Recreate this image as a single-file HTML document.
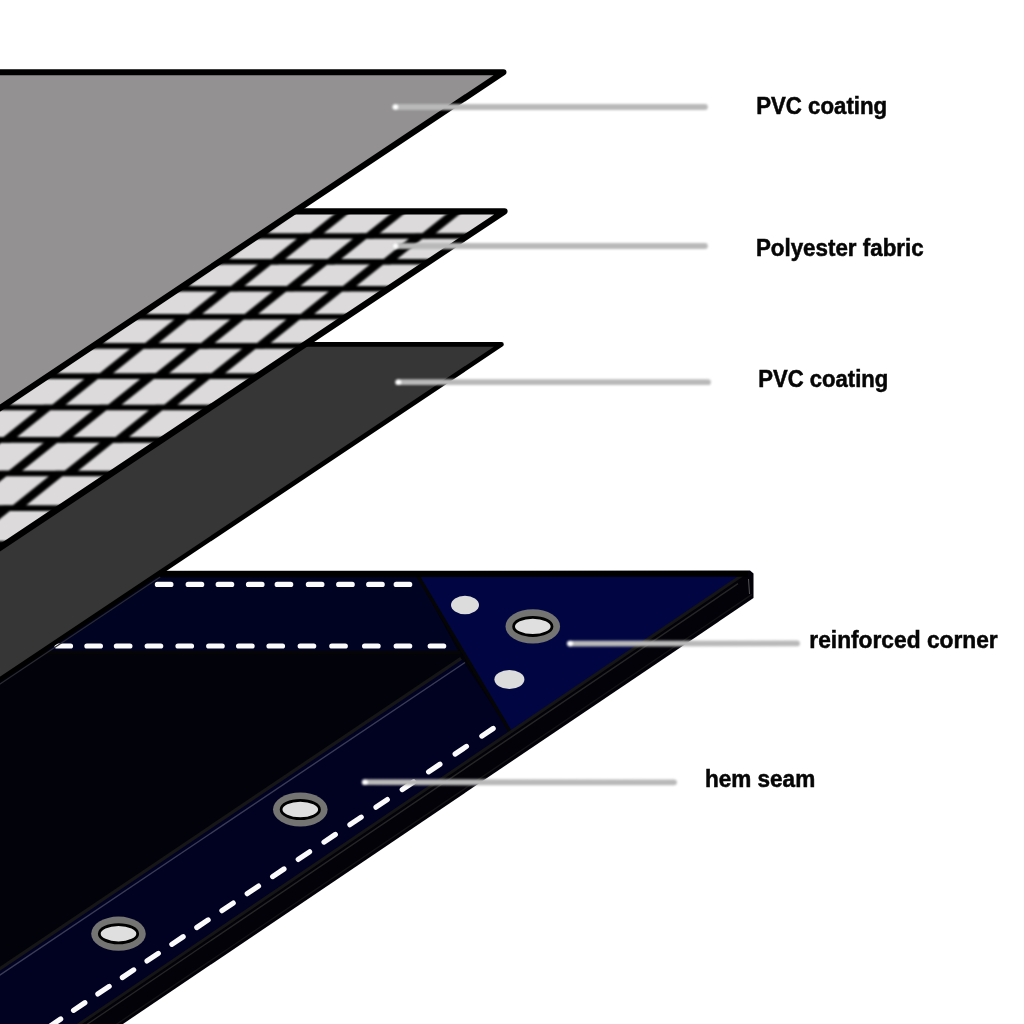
<!DOCTYPE html>
<html><head><meta charset="utf-8"><style>
html,body{margin:0;padding:0;background:#fff;width:1024px;height:1024px;overflow:hidden}
svg{display:block}
text{font-family:"Liberation Sans",sans-serif;font-weight:bold;font-size:23px;fill:#060606;stroke:#060606;stroke-width:0.5px}
</style></head><body>
<svg width="1024" height="1024" viewBox="0 0 1024 1024">
<defs><filter id="bl" color-interpolation-filters="sRGB" filterUnits="userSpaceOnUse" x="-10" y="-10" width="1044" height="1044"><feGaussianBlur stdDeviation="0.7"/></filter><filter id="bl2" color-interpolation-filters="sRGB" filterUnits="userSpaceOnUse" x="-10" y="-10" width="1044" height="1044"><feGaussianBlur stdDeviation="0.9"/></filter></defs>
<rect width="1024" height="1024" fill="#fff"/>
<g filter="url(#bl)">
<polygon points="-40,571 750,570.5 753.5,573.5 753.5,598 -40,1134.13" fill="#020208"/>
<line x1="738" y1="583.65" x2="-40" y2="1110.35" stroke="#262626" stroke-width="1.4"/>
<line x1="-40" y1="1130.13" x2="752" y2="594.34" stroke="#141414" stroke-width="1.4"/>
<line x1="748.5" y1="579" x2="749.5" y2="594" stroke="#555" stroke-width="1"/>
<polygon points="-40,574.4 743.53,574.4 -40,1104.85" fill="#02020a"/>
<polygon points="-40,574.4 417,574.4 459,652.5 -40,652.5" fill="#010322"/>
<polygon points="461,657.88 -40,995.55 -40,1104.85 510.5,732.16" fill="#010222"/>
<polygon points="417,574.4 743.53,574.4 510.5,732.16" fill="#010642"/>
<line x1="-40" y1="652.5" x2="460" y2="652.5" stroke="#050505" stroke-width="3.5"/>
<line x1="417" y1="574.4" x2="511" y2="733.16" stroke="#050505" stroke-width="3.5"/>
<line x1="461" y1="658.38" x2="-40" y2="995.55" stroke="#161616" stroke-width="3.2"/>
<line x1="465" y1="662.49" x2="-40" y2="1001.85" stroke="#3a3d55" stroke-width="1.4"/>
<line x1="743.53" y1="574.4" x2="-40" y2="1104.85" stroke="#151515" stroke-width="3"/>
<line x1="-40" y1="574.4" x2="748" y2="573.9" stroke="#000" stroke-width="5.8"/>
<path d="M157.4 584.4h13.5 M188.2 584.4h13.5 M218.2 584.4h13.5 M248.5 584.4h13.5 M277.2 584.4h13.5 M308.4 584.4h13.5 M338.7 584.4h13.5 M368.7 584.4h13.5 M396.2 584.4h13.5 M27.1 646h13.5 M57 646h13.5 M86.9 646h13.5 M116.4 646h13.5 M147.2 646h13.5 M178 646h13.5 M208.7 646h13.5 M238.6 646h13.5 M269 646h13.5 M300.2 646h13.5 M331.8 646h13.5 M364.6 646h13.5 M396.2 646h13.5 M430.2 646h13.5 M493.15 728.52L481.85 736.08 M466.45 746.45L455.15 754.01 M439.91 764.28L428.6 771.84 M413.52 782L402.22 789.56 M387.29 799.61L375.99 807.18 M361.22 817.12L349.92 824.68 M335.31 834.53L324.01 842.09 M309.55 851.82L298.25 859.39 M283.95 869.02L272.65 876.58 M258.51 886.1L247.21 893.66 M233.23 903.08L221.93 910.64 M208.11 919.96L196.8 927.52 M183.14 936.72L171.84 944.29 M158.33 953.39L147.03 960.95 M133.68 969.94L122.37 977.5 M109.18 986.39L97.88 993.96 M84.84 1002.74L73.54 1010.3 M60.66 1018.98L49.36 1026.54 M36.64 1035.11L25.34 1042.67 M12.78 1051.14L1.48 1058.7" stroke="#fbfbfb" stroke-width="5.2" stroke-linecap="round" fill="none"/>
<ellipse cx="532.8" cy="626.4" rx="27.3" ry="17.1" fill="#747472"/><ellipse cx="532.8" cy="626.4" rx="19.2" ry="9.1" fill="#e0dfdf" stroke="#000" stroke-width="2.8"/>
<ellipse cx="300.3" cy="809.5" rx="27.3" ry="17.1" fill="#747472"/><ellipse cx="300.3" cy="809.5" rx="19.2" ry="9.1" fill="#e0dfdf" stroke="#000" stroke-width="2.8"/>
<ellipse cx="118.5" cy="933.7" rx="27.3" ry="17.1" fill="#747472"/><ellipse cx="118.5" cy="933.7" rx="19.2" ry="9.1" fill="#e0dfdf" stroke="#000" stroke-width="2.8"/>
<ellipse cx="465" cy="605" rx="14" ry="9.2" fill="#dcdcdc"/>
<ellipse cx="509.4" cy="679.5" rx="15" ry="9.4" fill="#dcdcdc"/>
<polygon points="-40,344.4 501.5,344.4 -40,706.12" fill="#363636" stroke="#000" stroke-width="4.6" stroke-linejoin="round"/>
<line x1="160.18" y1="577" x2="-40" y2="710.72" stroke="#2a2a32" stroke-width="1.2"/>
<clipPath id="gc"><polygon points="-40,211.3 504.5,211.3 -40,574.48"/></clipPath>
<polygon points="-40,211.3 504.5,211.3 -40,574.48" fill="#dcdada"/>
<g clip-path="url(#gc)"><g filter="url(#bl2)"><path d="M-40 235.99H520 M-40 261.8H520 M-40 288.71H520 M-40 316.72H520 M-40 345.85H520 M-40 376.08H520 M-40 407.43H520 M-40 439.88H520 M-40 473.43H520 M-40 508.1H520 M-40 543.87H520 M-40 580.76H520 M-40 618.75H520" stroke="#000" stroke-width="5.6"/>
<path d="M-442.98 208.7H-429.53L-466.92 238.59H-480.37Z M-480.43 233.39H-466.98L-505.75 264.4H-519.2Z M-519.55 259.2H-506.1L-546.26 291.31H-559.71Z M-560.34 286.11H-546.89L-588.43 319.32H-601.89Z M-602.81 314.12H-589.36L-632.29 348.45H-645.74Z M-646.95 343.25H-633.5L-677.81 378.68H-691.26Z M-692.77 373.48H-679.32L-725.01 410.03H-738.47Z M-740.26 404.83H-726.8L-773.89 442.48H-787.34Z M-789.42 437.28H-775.97L-824.44 476.03H-837.89Z M-840.25 470.83H-826.8L-876.66 510.7H-890.11Z M-892.76 505.5H-879.31L-930.55 546.47H-944Z M-946.95 541.27H-933.5L-986.12 583.36H-999.57Z M-1002.8 578.16H-989.35L-1043.36 621.35H-1056.82Z M-1060.33 616.15H-1046.88L-1102.28 660.44H-1115.73Z M-1119.54 655.24H-1106.09L-1162.87 700.65H-1176.32Z M-386.98 208.7H-373.53L-410.92 238.59H-424.37Z M-424.43 233.39H-410.98L-449.75 264.4H-463.2Z M-463.55 259.2H-450.1L-490.26 291.31H-503.71Z M-504.34 286.11H-490.89L-532.43 319.32H-545.89Z M-546.81 314.12H-533.36L-576.29 348.45H-589.74Z M-590.95 343.25H-577.5L-621.81 378.68H-635.26Z M-636.77 373.48H-623.32L-669.01 410.03H-682.47Z M-684.26 404.83H-670.8L-717.89 442.48H-731.34Z M-733.42 437.28H-719.97L-768.44 476.03H-781.89Z M-784.25 470.83H-770.8L-820.66 510.7H-834.11Z M-836.76 505.5H-823.31L-874.55 546.47H-888Z M-890.95 541.27H-877.5L-930.12 583.36H-943.57Z M-946.8 578.16H-933.35L-987.36 621.35H-1000.82Z M-1004.33 616.15H-990.88L-1046.28 660.44H-1059.73Z M-1063.54 655.24H-1050.09L-1106.87 700.65H-1120.32Z M-330.98 208.7H-317.53L-354.92 238.59H-368.37Z M-368.43 233.39H-354.98L-393.75 264.4H-407.2Z M-407.55 259.2H-394.1L-434.26 291.31H-447.71Z M-448.34 286.11H-434.89L-476.43 319.32H-489.89Z M-490.81 314.12H-477.36L-520.29 348.45H-533.74Z M-534.95 343.25H-521.5L-565.81 378.68H-579.26Z M-580.77 373.48H-567.32L-613.01 410.03H-626.47Z M-628.26 404.83H-614.8L-661.89 442.48H-675.34Z M-677.42 437.28H-663.97L-712.44 476.03H-725.89Z M-728.25 470.83H-714.8L-764.66 510.7H-778.11Z M-780.76 505.5H-767.31L-818.55 546.47H-832Z M-834.95 541.27H-821.5L-874.12 583.36H-887.57Z M-890.8 578.16H-877.35L-931.36 621.35H-944.82Z M-948.33 616.15H-934.88L-990.28 660.44H-1003.73Z M-1007.54 655.24H-994.09L-1050.87 700.65H-1064.32Z M-274.98 208.7H-261.53L-298.92 238.59H-312.37Z M-312.43 233.39H-298.98L-337.75 264.4H-351.2Z M-351.55 259.2H-338.1L-378.26 291.31H-391.71Z M-392.34 286.11H-378.89L-420.43 319.32H-433.89Z M-434.81 314.12H-421.36L-464.29 348.45H-477.74Z M-478.95 343.25H-465.5L-509.81 378.68H-523.26Z M-524.77 373.48H-511.32L-557.01 410.03H-570.47Z M-572.26 404.83H-558.8L-605.89 442.48H-619.34Z M-621.42 437.28H-607.97L-656.44 476.03H-669.89Z M-672.25 470.83H-658.8L-708.66 510.7H-722.11Z M-724.76 505.5H-711.31L-762.55 546.47H-776Z M-778.95 541.27H-765.5L-818.12 583.36H-831.57Z M-834.8 578.16H-821.35L-875.36 621.35H-888.82Z M-892.33 616.15H-878.88L-934.28 660.44H-947.73Z M-951.54 655.24H-938.09L-994.87 700.65H-1008.32Z M-218.98 208.7H-205.53L-242.92 238.59H-256.37Z M-256.43 233.39H-242.98L-281.75 264.4H-295.2Z M-295.55 259.2H-282.1L-322.26 291.31H-335.71Z M-336.34 286.11H-322.89L-364.43 319.32H-377.89Z M-378.81 314.12H-365.36L-408.29 348.45H-421.74Z M-422.95 343.25H-409.5L-453.81 378.68H-467.26Z M-468.77 373.48H-455.32L-501.01 410.03H-514.47Z M-516.26 404.83H-502.8L-549.89 442.48H-563.34Z M-565.42 437.28H-551.97L-600.44 476.03H-613.89Z M-616.25 470.83H-602.8L-652.66 510.7H-666.11Z M-668.76 505.5H-655.31L-706.55 546.47H-720Z M-722.95 541.27H-709.5L-762.12 583.36H-775.57Z M-778.8 578.16H-765.35L-819.36 621.35H-832.82Z M-836.33 616.15H-822.88L-878.28 660.44H-891.73Z M-895.54 655.24H-882.09L-938.87 700.65H-952.32Z M-162.98 208.7H-149.53L-186.92 238.59H-200.37Z M-200.43 233.39H-186.98L-225.75 264.4H-239.2Z M-239.55 259.2H-226.1L-266.26 291.31H-279.71Z M-280.34 286.11H-266.89L-308.43 319.32H-321.89Z M-322.81 314.12H-309.36L-352.29 348.45H-365.74Z M-366.95 343.25H-353.5L-397.81 378.68H-411.26Z M-412.77 373.48H-399.32L-445.01 410.03H-458.47Z M-460.26 404.83H-446.8L-493.89 442.48H-507.34Z M-509.42 437.28H-495.97L-544.44 476.03H-557.89Z M-560.25 470.83H-546.8L-596.66 510.7H-610.11Z M-612.76 505.5H-599.31L-650.55 546.47H-664Z M-666.95 541.27H-653.5L-706.12 583.36H-719.57Z M-722.8 578.16H-709.35L-763.36 621.35H-776.82Z M-780.33 616.15H-766.88L-822.28 660.44H-835.73Z M-839.54 655.24H-826.09L-882.87 700.65H-896.32Z M-106.98 208.7H-93.53L-130.92 238.59H-144.37Z M-144.43 233.39H-130.98L-169.75 264.4H-183.2Z M-183.55 259.2H-170.1L-210.26 291.31H-223.71Z M-224.34 286.11H-210.89L-252.43 319.32H-265.89Z M-266.81 314.12H-253.36L-296.29 348.45H-309.74Z M-310.95 343.25H-297.5L-341.81 378.68H-355.26Z M-356.77 373.48H-343.32L-389.01 410.03H-402.47Z M-404.26 404.83H-390.8L-437.89 442.48H-451.34Z M-453.42 437.28H-439.97L-488.44 476.03H-501.89Z M-504.25 470.83H-490.8L-540.66 510.7H-554.11Z M-556.76 505.5H-543.31L-594.55 546.47H-608Z M-610.95 541.27H-597.5L-650.12 583.36H-663.57Z M-666.8 578.16H-653.35L-707.36 621.35H-720.82Z M-724.33 616.15H-710.88L-766.28 660.44H-779.73Z M-783.54 655.24H-770.09L-826.87 700.65H-840.32Z M-50.98 208.7H-37.53L-74.92 238.59H-88.37Z M-88.43 233.39H-74.98L-113.75 264.4H-127.2Z M-127.55 259.2H-114.1L-154.26 291.31H-167.71Z M-168.34 286.11H-154.89L-196.43 319.32H-209.89Z M-210.81 314.12H-197.36L-240.29 348.45H-253.74Z M-254.95 343.25H-241.5L-285.81 378.68H-299.26Z M-300.77 373.48H-287.32L-333.01 410.03H-346.47Z M-348.26 404.83H-334.8L-381.89 442.48H-395.34Z M-397.42 437.28H-383.97L-432.44 476.03H-445.89Z M-448.25 470.83H-434.8L-484.66 510.7H-498.11Z M-500.76 505.5H-487.31L-538.55 546.47H-552Z M-554.95 541.27H-541.5L-594.12 583.36H-607.57Z M-610.8 578.16H-597.35L-651.36 621.35H-664.82Z M-668.33 616.15H-654.88L-710.28 660.44H-723.73Z M-727.54 655.24H-714.09L-770.87 700.65H-784.32Z M5.02 208.7H18.47L-18.92 238.59H-32.37Z M-32.43 233.39H-18.98L-57.75 264.4H-71.2Z M-71.55 259.2H-58.1L-98.26 291.31H-111.71Z M-112.34 286.11H-98.89L-140.43 319.32H-153.89Z M-154.81 314.12H-141.36L-184.29 348.45H-197.74Z M-198.95 343.25H-185.5L-229.81 378.68H-243.26Z M-244.77 373.48H-231.32L-277.01 410.03H-290.47Z M-292.26 404.83H-278.8L-325.89 442.48H-339.34Z M-341.42 437.28H-327.97L-376.44 476.03H-389.89Z M-392.25 470.83H-378.8L-428.66 510.7H-442.11Z M-444.76 505.5H-431.31L-482.55 546.47H-496Z M-498.95 541.27H-485.5L-538.12 583.36H-551.57Z M-554.8 578.16H-541.35L-595.36 621.35H-608.82Z M-612.33 616.15H-598.88L-654.28 660.44H-667.73Z M-671.54 655.24H-658.09L-714.87 700.65H-728.32Z M61.02 208.7H74.47L37.08 238.59H23.63Z M23.57 233.39H37.02L-1.75 264.4H-15.2Z M-15.55 259.2H-2.1L-42.26 291.31H-55.71Z M-56.34 286.11H-42.89L-84.43 319.32H-97.89Z M-98.81 314.12H-85.36L-128.29 348.45H-141.74Z M-142.95 343.25H-129.5L-173.81 378.68H-187.26Z M-188.77 373.48H-175.32L-221.01 410.03H-234.47Z M-236.26 404.83H-222.8L-269.89 442.48H-283.34Z M-285.42 437.28H-271.97L-320.44 476.03H-333.89Z M-336.25 470.83H-322.8L-372.66 510.7H-386.11Z M-388.76 505.5H-375.31L-426.55 546.47H-440Z M-442.95 541.27H-429.5L-482.12 583.36H-495.57Z M-498.8 578.16H-485.35L-539.36 621.35H-552.82Z M-556.33 616.15H-542.88L-598.28 660.44H-611.73Z M-615.54 655.24H-602.09L-658.87 700.65H-672.32Z M117.02 208.7H130.47L93.08 238.59H79.63Z M79.57 233.39H93.02L54.25 264.4H40.8Z M40.45 259.2H53.9L13.74 291.31H0.29Z M-0.34 286.11H13.11L-28.43 319.32H-41.89Z M-42.81 314.12H-29.36L-72.29 348.45H-85.74Z M-86.95 343.25H-73.5L-117.81 378.68H-131.26Z M-132.77 373.48H-119.32L-165.01 410.03H-178.47Z M-180.26 404.83H-166.8L-213.89 442.48H-227.34Z M-229.42 437.28H-215.97L-264.44 476.03H-277.89Z M-280.25 470.83H-266.8L-316.66 510.7H-330.11Z M-332.76 505.5H-319.31L-370.55 546.47H-384Z M-386.95 541.27H-373.5L-426.12 583.36H-439.57Z M-442.8 578.16H-429.35L-483.36 621.35H-496.82Z M-500.33 616.15H-486.88L-542.28 660.44H-555.73Z M-559.54 655.24H-546.09L-602.87 700.65H-616.32Z M173.02 208.7H186.47L149.08 238.59H135.63Z M135.57 233.39H149.02L110.25 264.4H96.8Z M96.45 259.2H109.9L69.74 291.31H56.29Z M55.66 286.11H69.11L27.57 319.32H14.11Z M13.19 314.12H26.64L-16.29 348.45H-29.74Z M-30.95 343.25H-17.5L-61.81 378.68H-75.26Z M-76.77 373.48H-63.32L-109.01 410.03H-122.47Z M-124.26 404.83H-110.8L-157.89 442.48H-171.34Z M-173.42 437.28H-159.97L-208.44 476.03H-221.89Z M-224.25 470.83H-210.8L-260.66 510.7H-274.11Z M-276.76 505.5H-263.31L-314.55 546.47H-328Z M-330.95 541.27H-317.5L-370.12 583.36H-383.57Z M-386.8 578.16H-373.35L-427.36 621.35H-440.82Z M-444.33 616.15H-430.88L-486.28 660.44H-499.73Z M-503.54 655.24H-490.09L-546.87 700.65H-560.32Z M229.02 208.7H242.47L205.08 238.59H191.63Z M191.57 233.39H205.02L166.25 264.4H152.8Z M152.45 259.2H165.9L125.74 291.31H112.29Z M111.66 286.11H125.11L83.57 319.32H70.11Z M69.19 314.12H82.64L39.71 348.45H26.26Z M25.05 343.25H38.5L-5.81 378.68H-19.26Z M-20.77 373.48H-7.32L-53.01 410.03H-66.47Z M-68.26 404.83H-54.8L-101.89 442.48H-115.34Z M-117.42 437.28H-103.97L-152.44 476.03H-165.89Z M-168.25 470.83H-154.8L-204.66 510.7H-218.11Z M-220.76 505.5H-207.31L-258.55 546.47H-272Z M-274.95 541.27H-261.5L-314.12 583.36H-327.57Z M-330.8 578.16H-317.35L-371.36 621.35H-384.82Z M-388.33 616.15H-374.88L-430.28 660.44H-443.73Z M-447.54 655.24H-434.09L-490.87 700.65H-504.32Z M285.02 208.7H298.47L261.08 238.59H247.63Z M247.57 233.39H261.02L222.25 264.4H208.8Z M208.45 259.2H221.9L181.74 291.31H168.29Z M167.66 286.11H181.11L139.57 319.32H126.11Z M125.19 314.12H138.64L95.71 348.45H82.26Z M81.05 343.25H94.5L50.19 378.68H36.74Z M35.23 373.48H48.68L2.99 410.03H-10.47Z M-12.26 404.83H1.2L-45.89 442.48H-59.34Z M-61.42 437.28H-47.97L-96.44 476.03H-109.89Z M-112.25 470.83H-98.8L-148.66 510.7H-162.11Z M-164.76 505.5H-151.31L-202.55 546.47H-216Z M-218.95 541.27H-205.5L-258.12 583.36H-271.57Z M-274.8 578.16H-261.35L-315.36 621.35H-328.82Z M-332.33 616.15H-318.88L-374.28 660.44H-387.73Z M-391.54 655.24H-378.09L-434.87 700.65H-448.32Z M341.02 208.7H354.47L317.08 238.59H303.63Z M303.57 233.39H317.02L278.25 264.4H264.8Z M264.45 259.2H277.9L237.74 291.31H224.29Z M223.66 286.11H237.11L195.57 319.32H182.11Z M181.19 314.12H194.64L151.71 348.45H138.26Z M137.05 343.25H150.5L106.19 378.68H92.74Z M91.23 373.48H104.68L58.99 410.03H45.53Z M43.74 404.83H57.2L10.11 442.48H-3.34Z M-5.42 437.28H8.03L-40.44 476.03H-53.89Z M-56.25 470.83H-42.8L-92.66 510.7H-106.11Z M-108.76 505.5H-95.31L-146.55 546.47H-160Z M-162.95 541.27H-149.5L-202.12 583.36H-215.57Z M-218.8 578.16H-205.35L-259.36 621.35H-272.82Z M-276.33 616.15H-262.88L-318.28 660.44H-331.73Z M-335.54 655.24H-322.09L-378.87 700.65H-392.32Z M397.02 208.7H410.47L373.08 238.59H359.63Z M359.57 233.39H373.02L334.25 264.4H320.8Z M320.45 259.2H333.9L293.74 291.31H280.29Z M279.66 286.11H293.11L251.57 319.32H238.11Z M237.19 314.12H250.64L207.71 348.45H194.26Z M193.05 343.25H206.5L162.19 378.68H148.74Z M147.23 373.48H160.68L114.99 410.03H101.53Z M99.74 404.83H113.2L66.11 442.48H52.66Z M50.58 437.28H64.03L15.56 476.03H2.11Z M-0.25 470.83H13.2L-36.66 510.7H-50.11Z M-52.76 505.5H-39.31L-90.55 546.47H-104Z M-106.95 541.27H-93.5L-146.12 583.36H-159.57Z M-162.8 578.16H-149.35L-203.36 621.35H-216.82Z M-220.33 616.15H-206.88L-262.28 660.44H-275.73Z M-279.54 655.24H-266.09L-322.87 700.65H-336.32Z M453.02 208.7H466.47L429.08 238.59H415.63Z M415.57 233.39H429.02L390.25 264.4H376.8Z M376.45 259.2H389.9L349.74 291.31H336.29Z M335.66 286.11H349.11L307.57 319.32H294.11Z M293.19 314.12H306.64L263.71 348.45H250.26Z M249.05 343.25H262.5L218.19 378.68H204.74Z M203.23 373.48H216.68L170.99 410.03H157.53Z M155.74 404.83H169.2L122.11 442.48H108.66Z M106.58 437.28H120.03L71.56 476.03H58.11Z M55.75 470.83H69.2L19.34 510.7H5.89Z M3.24 505.5H16.69L-34.55 546.47H-48Z M-50.95 541.27H-37.5L-90.12 583.36H-103.57Z M-106.8 578.16H-93.35L-147.36 621.35H-160.82Z M-164.33 616.15H-150.88L-206.28 660.44H-219.73Z M-223.54 655.24H-210.09L-266.87 700.65H-280.32Z M509.02 208.7H522.47L485.08 238.59H471.63Z M471.57 233.39H485.02L446.25 264.4H432.8Z M432.45 259.2H445.9L405.74 291.31H392.29Z M391.66 286.11H405.11L363.57 319.32H350.11Z M349.19 314.12H362.64L319.71 348.45H306.26Z M305.05 343.25H318.5L274.19 378.68H260.74Z M259.23 373.48H272.68L226.99 410.03H213.53Z M211.74 404.83H225.2L178.11 442.48H164.66Z M162.58 437.28H176.03L127.56 476.03H114.11Z M111.75 470.83H125.2L75.34 510.7H61.89Z M59.24 505.5H72.69L21.45 546.47H8Z M5.05 541.27H18.5L-34.12 583.36H-47.57Z M-50.8 578.16H-37.35L-91.36 621.35H-104.82Z M-108.33 616.15H-94.88L-150.28 660.44H-163.73Z M-167.54 655.24H-154.09L-210.87 700.65H-224.32Z" fill="#000"/></g></g>
<polygon points="-40,211.3 504.5,211.3 -40,574.48" fill="none" stroke="#000" stroke-width="6.3" stroke-linejoin="round"/>
<polygon points="-40,72.2 503.5,72.2 -40,434.71" fill="#939192" stroke="#000" stroke-width="6" stroke-linejoin="round"/>
<g filter="url(#bl2)"><line x1="395" y1="107" x2="705" y2="107" stroke="#b9b9b9" stroke-width="5.8" stroke-linecap="round"/>
<circle cx="395.5" cy="107" r="2.8" fill="#fff"/></g>
<g filter="url(#bl2)"><line x1="395" y1="246" x2="705" y2="246" stroke="#b9b9b9" stroke-width="5.8" stroke-linecap="round"/>
<circle cx="395.5" cy="246" r="2.8" fill="#fff"/></g>
<g filter="url(#bl2)"><line x1="398" y1="382.2" x2="708" y2="382.2" stroke="#b9b9b9" stroke-width="5.8" stroke-linecap="round"/>
<circle cx="398.5" cy="382.2" r="2.8" fill="#fff"/></g>
<g filter="url(#bl2)"><line x1="569.7" y1="643.6" x2="797" y2="643.4" stroke="#b9b9b9" stroke-width="5.8" stroke-linecap="round"/>
<circle cx="570.2" cy="643.6" r="2.8" fill="#fff"/></g>
<g filter="url(#bl2)"><line x1="364.6" y1="782.2" x2="674" y2="782.3" stroke="#b9b9b9" stroke-width="5.8" stroke-linecap="round"/>
<circle cx="365.1" cy="782.2" r="2.8" fill="#fff"/></g>
<text x="756.2" y="113.9" textLength="131" lengthAdjust="spacingAndGlyphs">PVC coating</text>
<text x="755.9" y="256.2" textLength="167.8" lengthAdjust="spacingAndGlyphs">Polyester fabric</text>
<text x="758.3" y="387.1" textLength="130" lengthAdjust="spacingAndGlyphs">PVC coating</text>
<text x="809.3" y="648.3" textLength="188.4" lengthAdjust="spacingAndGlyphs">reinforced corner</text>
<text x="704.9" y="787.3" textLength="110.3" lengthAdjust="spacingAndGlyphs">hem seam</text>
</g>
</svg>
</body></html>
